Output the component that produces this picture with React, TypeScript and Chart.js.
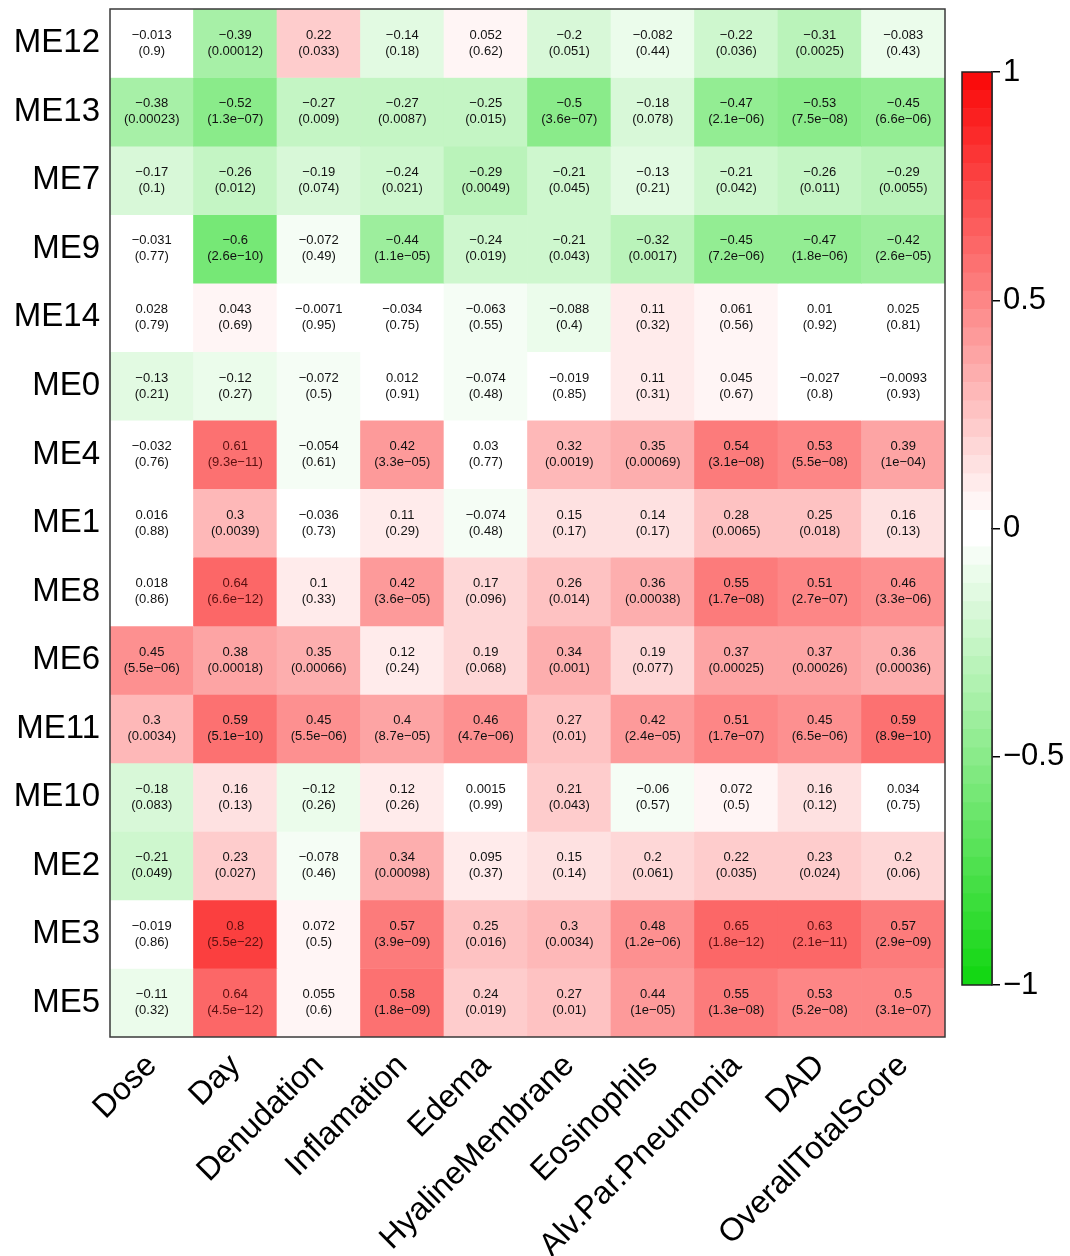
import React, { useEffect, useRef } from "react";
import { Chart, registerables } from "chart.js";

Chart.register(...registerables);

const FONT = "'Liberation Sans', Arial, Helvetica, sans-serif";

const moduleRows = ["ME12", "ME13", "ME7", "ME9", "ME14", "ME0", "ME4", "ME1", "ME8", "ME6", "ME11", "ME10", "ME2", "ME3", "ME5"];
const traits = ["Dose", "Day", "Denudation", "Inflamation", "Edema", "HyalineMembrane", "Eosinophils", "Alv.Par.Pneumonia", "DAD", "OverallTotalScore"];

const corrValues: number[][] = [
  [-0.013, -0.39, 0.22, -0.14, 0.052, -0.2, -0.082, -0.22, -0.31, -0.083],
  [-0.38, -0.52, -0.27, -0.27, -0.25, -0.5, -0.18, -0.47, -0.53, -0.45],
  [-0.17, -0.26, -0.19, -0.24, -0.29, -0.21, -0.13, -0.21, -0.26, -0.29],
  [-0.031, -0.6, -0.072, -0.44, -0.24, -0.21, -0.32, -0.45, -0.47, -0.42],
  [0.028, 0.043, -0.0071, -0.034, -0.063, -0.088, 0.11, 0.061, 0.01, 0.025],
  [-0.13, -0.12, -0.072, 0.012, -0.074, -0.019, 0.11, 0.045, -0.027, -0.0093],
  [-0.032, 0.61, -0.054, 0.42, 0.03, 0.32, 0.35, 0.54, 0.53, 0.39],
  [0.016, 0.3, -0.036, 0.11, -0.074, 0.15, 0.14, 0.28, 0.25, 0.16],
  [0.018, 0.64, 0.1, 0.42, 0.17, 0.26, 0.36, 0.55, 0.51, 0.46],
  [0.45, 0.38, 0.35, 0.12, 0.19, 0.34, 0.19, 0.37, 0.37, 0.36],
  [0.3, 0.59, 0.45, 0.4, 0.46, 0.27, 0.42, 0.51, 0.45, 0.59],
  [-0.18, 0.16, -0.12, 0.12, 0.0015, 0.21, -0.06, 0.072, 0.16, 0.034],
  [-0.21, 0.23, -0.078, 0.34, 0.095, 0.15, 0.2, 0.22, 0.23, 0.2],
  [-0.019, 0.8, 0.072, 0.57, 0.25, 0.3, 0.48, 0.65, 0.63, 0.57],
  [-0.11, 0.64, 0.055, 0.58, 0.24, 0.27, 0.44, 0.55, 0.53, 0.5],
];

const pValues: string[][] = [
  ["0.9", "0.00012", "0.033", "0.18", "0.62", "0.051", "0.44", "0.036", "0.0025", "0.43"],
  ["0.00023", "1.3e-07", "0.009", "0.0087", "0.015", "3.6e-07", "0.078", "2.1e-06", "7.5e-08", "6.6e-06"],
  ["0.1", "0.012", "0.074", "0.021", "0.0049", "0.045", "0.21", "0.042", "0.011", "0.0055"],
  ["0.77", "2.6e-10", "0.49", "1.1e-05", "0.019", "0.043", "0.0017", "7.2e-06", "1.8e-06", "2.6e-05"],
  ["0.79", "0.69", "0.95", "0.75", "0.55", "0.4", "0.32", "0.56", "0.92", "0.81"],
  ["0.21", "0.27", "0.5", "0.91", "0.48", "0.85", "0.31", "0.67", "0.8", "0.93"],
  ["0.76", "9.3e-11", "0.61", "3.3e-05", "0.77", "0.0019", "0.00069", "3.1e-08", "5.5e-08", "1e-04"],
  ["0.88", "0.0039", "0.73", "0.29", "0.48", "0.17", "0.17", "0.0065", "0.018", "0.13"],
  ["0.86", "6.6e-12", "0.33", "3.6e-05", "0.096", "0.014", "0.00038", "1.7e-08", "2.7e-07", "3.3e-06"],
  ["5.5e-06", "0.00018", "0.00066", "0.24", "0.068", "0.001", "0.077", "0.00025", "0.00026", "0.00036"],
  ["0.0034", "5.1e-10", "5.5e-06", "8.7e-05", "4.7e-06", "0.01", "2.4e-05", "1.7e-07", "6.5e-06", "8.9e-10"],
  ["0.083", "0.13", "0.26", "0.26", "0.99", "0.043", "0.57", "0.5", "0.12", "0.75"],
  ["0.049", "0.027", "0.46", "0.00098", "0.37", "0.14", "0.061", "0.035", "0.024", "0.06"],
  ["0.86", "5.5e-22", "0.5", "3.9e-09", "0.016", "0.0034", "1.2e-06", "1.8e-12", "2.1e-11", "2.9e-09"],
  ["0.32", "4.5e-12", "0.6", "1.8e-09", "0.019", "0.01", "1e-05", "1.3e-08", "5.2e-08", "3.1e-07"],
];

const colorbarTicks = [-1, -0.5, 0, 0.5, 1];
const N_COLORS = 50;

const minus = (s: string) => s.replace(/-/g, "\u2212");

// green -> white -> red ramp (50 steps)
const GREEN_END = [20, 215, 20];
const RED_END = [250, 12, 12];

function mix(end: number[], t: number): string {
  // t = 0 -> end colour, t = 1 -> white
  const c = end.map((e) => Math.round(e + (255 - e) * t));
  return `rgb(${c[0]},${c[1]},${c[2]})`;
}

function paletteColor(k: number): string {
  const half = N_COLORS / 2;
  if (k < half) return mix(GREEN_END, k / (half - 1));
  return mix(RED_END, (N_COLORS - 1 - k) / (half - 1));
}

function colorFor(v: number): string {
  let k = Math.round(((v + 1) / 2) * (N_COLORS - 1));
  k = Math.max(0, Math.min(N_COLORS - 1, k));
  return paletteColor(k);
}

function framePlugin(id: string, color: string, width: number) {
  return {
    id,
    afterDraw(chart: any) {
      const { ctx, chartArea } = chart;
      ctx.save();
      ctx.strokeStyle = color;
      ctx.lineWidth = width;
      ctx.strokeRect(chartArea.left, chartArea.top, chartArea.right - chartArea.left, chartArea.bottom - chartArea.top);
      ctx.restore();
    },
  };
}

const cellTextPlugin = {
  id: "cellText",
  afterDatasetsDraw(chart: any) {
    const ctx = chart.ctx;
    ctx.save();
    ctx.font = `13px ${FONT}`;
    ctx.textAlign = "center";
    ctx.textBaseline = "middle";
    chart.data.datasets.forEach((_: any, r: number) => {
      const meta = chart.getDatasetMeta(r);
      meta.data.forEach((el: any, c: number) => {
        const { x, y, base } = el.getProps(["x", "y", "base"], true);
        const cy = (y + base) / 2;
        const v = corrValues[r][c];
        ctx.fillStyle = v > 0.6 ? "#5a0f0f" : "#111";
        ctx.fillText(minus(String(v)), x, cy - 8);
        ctx.fillText(minus(`(${pValues[r][c]})`), x, cy + 8);
      });
    });
    ctx.restore();
  },
};

export default function App() {
  const mainRef = useRef<HTMLCanvasElement>(null);
  const barRef = useRef<HTMLCanvasElement>(null);

  useEffect(() => {
    const main = new Chart(mainRef.current!, {
      type: "bar",
      data: {
        labels: traits,
        datasets: moduleRows.map((name, r) => ({
          label: name,
          data: traits.map(() => [r, r + 1]) as any,
          backgroundColor: corrValues[r].map(colorFor),
          borderWidth: 0,
          grouped: false,
          barPercentage: 1,
          categoryPercentage: 1,
        })),
      },
      options: {
        animation: false,
        responsive: false,
        layout: { padding: { left: 0, top: 9, right: 125, bottom: 0 } },
        plugins: { legend: { display: false }, tooltip: { enabled: false } },
        scales: {
          x: {
            type: "category",
            grid: { display: false, drawTicks: false },
            border: { display: false },
            ticks: {
              autoSkip: false,
              minRotation: 45,
              maxRotation: 45,
              padding: 10,
              color: "#000",
              font: { family: FONT, size: 32 },
            },
            afterFit: (s: any) => {
              s.height = 219;
              s.paddingLeft = 0;
              s.paddingRight = 0;
            },
          },
          y: {
            type: "linear",
            min: 0,
            max: 15,
            reverse: true,
            grid: { display: false, drawTicks: false },
            border: { display: false },
            afterBuildTicks: (s: any) => {
              s.ticks = moduleRows.map((_, i) => ({ value: i + 0.5 }));
            },
            ticks: {
              callback: (_v: any, i: number) => moduleRows[i],
              padding: 10,
              color: "#000",
              font: { family: FONT, size: 33 },
            },
            afterFit: (s: any) => {
              s.width = 110;
              s.paddingTop = 0;
              s.paddingBottom = 0;
            },
          },
        },
      },
      plugins: [cellTextPlugin, framePlugin("frameMain", "#3a3a3a", 1.5)],
    } as any);

    const bands = Array.from({ length: N_COLORS }, (_, k) => k);
    const bar = new Chart(barRef.current!, {
      type: "bar",
      data: {
        labels: [""],
        datasets: bands.map((k) => ({
          data: [[-1 + (2 * k) / N_COLORS, -1 + (2 * (k + 1)) / N_COLORS]] as any,
          backgroundColor: paletteColor(k),
          borderWidth: 0,
          grouped: false,
          barPercentage: 1,
          categoryPercentage: 1,
        })),
      },
      options: {
        animation: false,
        responsive: false,
        layout: { padding: { left: 962, top: 72, right: 0, bottom: 271 } },
        plugins: { legend: { display: false }, tooltip: { enabled: false } },
        scales: {
          x: { display: false },
          y: {
            position: "right",
            min: -1,
            max: 1,
            afterBuildTicks: (s: any) => {
              s.ticks = colorbarTicks.map((v) => ({ value: v }));
            },
            ticks: {
              callback: (v: any) => minus(String(v)),
              padding: 3,
              color: "#000",
              font: { family: FONT, size: 31 },
            },
            grid: { drawOnChartArea: false, drawTicks: true, tickLength: 8, color: "#000", lineWidth: 1.5 },
            border: { display: true, color: "#000", width: 1.5 },
            afterFit: (s: any) => {
              s.width = 78;
              s.paddingTop = 0;
              s.paddingBottom = 0;
            },
          },
        },
      },
      plugins: [framePlugin("frameBar", "#222", 1.5)],
    } as any);

    return () => {
      main.destroy();
      bar.destroy();
    };
  }, []);

  return (
    <div style={{ position: "absolute", left: 0, top: 0, width: 1070, height: 1256, background: "#fff" }}>
      <canvas ref={mainRef} width={1070} height={1256} style={{ position: "absolute", left: 0, top: 0, width: 1070, height: 1256 }} />
      <canvas ref={barRef} width={1070} height={1256} style={{ position: "absolute", left: 0, top: 0, width: 1070, height: 1256 }} />
    </div>
  );
}
